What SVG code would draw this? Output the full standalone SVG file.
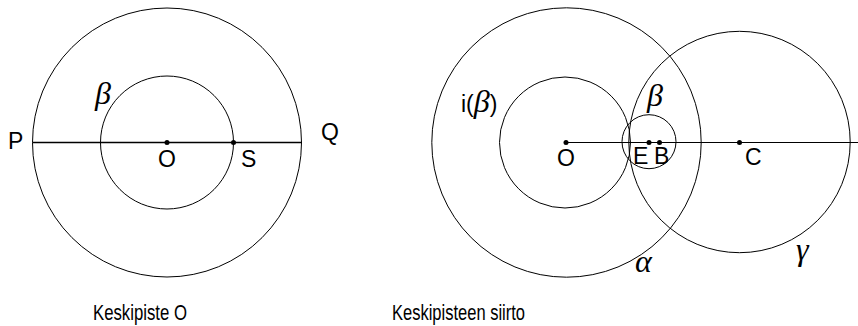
<svg xmlns="http://www.w3.org/2000/svg" width="858" height="326" viewBox="0 0 858 326">
<style>
.c{fill:none;stroke:#000;stroke-width:1}
.l{stroke:#000}
.t{font-family:"Liberation Sans",Arial,sans-serif;font-size:23px;fill:#000}
.g{font-family:"Liberation Serif","Times New Roman",serif;font-style:italic;font-size:32px;fill:#000}
.cap{font-family:"Liberation Sans",Arial,sans-serif;font-size:17px;fill:#000}
</style>
<rect width="858" height="326" fill="#fff"/>
<g id="edges">
<line class="l" x1="32.5" y1="142.5" x2="302" y2="142.5" stroke-width="1.6"/>
<line class="l" x1="566" y1="142.5" x2="858" y2="142.5" stroke-width="1"/>
</g>
<g id="left-outer"><circle class="c" cx="167" cy="142.5" r="134.5"/></g>
<g id="left-beta"><circle class="c" cx="167" cy="142.5" r="66.5"/><text class="g" x="95" y="104">β</text></g>
<g id="point-O1"><circle cx="167" cy="142.5" r="2.5"/><text class="t" x="167" y="167" text-anchor="middle">O</text></g>
<g id="point-S"><circle cx="233.5" cy="142.5" r="2.5"/><text class="t" x="241" y="167">S</text></g>
<g id="label-P"><text class="t" x="8" y="149">P</text></g>
<g id="label-Q"><text class="t" x="321" y="140">Q</text></g>
<g id="alpha"><circle class="c" cx="566.5" cy="142.5" r="134.7"/><text class="g" x="635" y="272">α</text></g>
<g id="i-beta"><circle class="c" cx="565" cy="142.5" r="65.5"/><text x="461" y="112"><tspan class="t">i(</tspan><tspan class="g">β</tspan><tspan class="t">)</tspan></text></g>
<g id="gamma"><circle class="c" cx="739.5" cy="142" r="110.7"/><text class="g" x="796" y="260">γ</text></g>
<g id="beta"><circle class="c" cx="649" cy="141.7" r="27"/><text class="g" x="647" y="106">β</text></g>
<g id="point-O2"><circle cx="566" cy="142.5" r="2.5"/><text class="t" x="566" y="166" text-anchor="middle">O</text></g>
<g id="point-E"><circle cx="649" cy="142.5" r="2.5"/><text class="t" x="633" y="164">E</text></g>
<g id="point-B"><circle cx="659.5" cy="142.5" r="2.5"/><text class="t" x="654" y="164">B</text></g>
<g id="point-C"><circle cx="739.5" cy="142.5" r="2.5"/><text class="t" x="745" y="165">C</text></g>
<g id="captions">
<text class="cap" transform="translate(93,320) scale(1,1.25)" x="0" y="0" textLength="94" lengthAdjust="spacingAndGlyphs">Keskipiste O</text>
<text class="cap" transform="translate(392,320) scale(1,1.25)" x="0" y="0" textLength="133" lengthAdjust="spacingAndGlyphs">Keskipisteen siirto</text>
</g>
</svg>
